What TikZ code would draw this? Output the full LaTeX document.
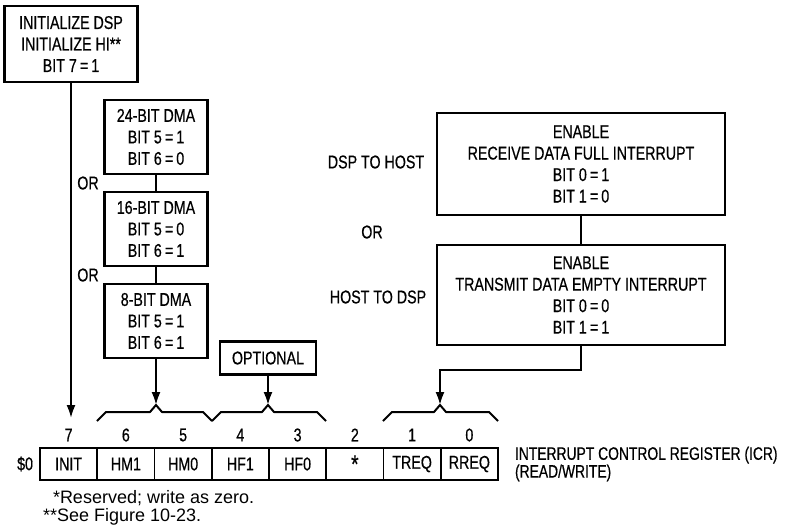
\documentclass[tikz,border=0pt]{standalone}
\usepackage{fontspec}
\setmainfont{Liberation Sans}
\newfontfamily\condfont[FakeStretch=0.77,FakeBold=0.5]{Liberation Sans}
\usetikzlibrary{positioning,calc,arrows.meta}

% brace over a group of register bits: left end, tip, right end, tip name
\newcommand\icrbrace[4]{%
  \draw[brc] (#1,421) -- (#1+9,412) -- (#2-6,412) -- (#2,405) -- (#2+6,412) -- (#3-9,412) -- (#3,421);
  \coordinate (#4) at (#2,405);}

\begin{document}
\begin{tikzpicture}[x=1pt,y=-1pt,
  every node/.style={inner sep=0pt,outer sep=0pt,font=\condfont\fontsize{18.5}{21.5}\selectfont},
  setbox/.style={draw,line width=2.8pt,align=center},
  regcell/.style={draw,line width=1.8pt,minimum width=57.25pt,minimum height=32pt},
  flow/.style={line width=2pt,-{Latex[length=13pt,width=9pt]}},
  link/.style={line width=2pt},
  brc/.style={line width=2pt,line join=round}]
\useasboundingbox (0,0) rectangle (785,528);
% INIT bit
\node[setbox,minimum width=133pt,minimum height=76pt] (init) at (71,44) {INITIALIZE DSP\\INITIALIZE HI**\\BIT 7\,=\,1};
% DMA modes (bits 6,5)
\node[setbox,minimum width=103pt,minimum height=74pt] (dma24) at (156,137) {24-BIT DMA\\BIT 5\,=\,1\\BIT 6\,=\,0};
\node[setbox,minimum width=103pt,minimum height=74pt,below=18pt of dma24] (dma16) {16-BIT DMA\\BIT 5\,=\,0\\BIT 6\,=\,1};
\node[setbox,minimum width=103pt,minimum height=74pt,below=18pt of dma16] (dma8) {8-BIT DMA\\BIT 5\,=\,1\\BIT 6\,=\,1};
\node (or1) at (88,183) {OR};
\node (or2) at (88,275) {OR};
% host flags (bits 4,3)
\node[setbox,minimum width=96pt,minimum height=33pt] (opt) at (268,358) {OPTIONAL};
% interrupt enables (bits 1,0)
\node[setbox,minimum width=288pt,minimum height=102pt] (rxbox) at (581,164) {ENABLE\\RECEIVE DATA FULL INTERRUPT\\BIT 0\,=\,1\\BIT 1\,=\,0};
\node[setbox,minimum width=288pt,minimum height=100pt,below=30pt of rxbox] (txbox) {ENABLE\\TRANSMIT DATA EMPTY INTERRUPT\\BIT 0\,=\,0\\BIT 1\,=\,1};
\node (dsp2host) at (376,162) {DSP TO HOST};
\node (orx) at (372,232) {OR};
\node (host2dsp) at (378,297) {HOST TO DSP};
% the register
\foreach \b/\t [count=\i from 0] in {7/INIT,6/HM1,5/HM0,4/HF1,3/HF0,2/{\fontsize{25}{25}\selectfont *},1/TREQ,0/RREQ}{
  \node[regcell] (c\b) at ({68.625+57.25*\i},464) {\t};
  \node (n\b) at ({68.625+57.25*\i},435) {\b};
}
\node[left=7pt of c7] (addr) {\$0};
\node[right=17pt of c0,align=left,font=\condfont\fontsize{18}{15}\selectfont] (icr) {INTERRUPT CONTROL REGISTER (ICR)\\(READ/WRITE)};
\node[anchor=west,font=\fontsize{18}{18}\selectfont] (note1) at (53,498) {*Reserved; write as zero.};
\node[anchor=west,font=\fontsize{18}{18}\selectfont] (note2) at (43,517) {**See Figure 10-23.};
% braces
\icrbrace{97}{156}{212}{b65}
\icrbrace{212}{268}{326}{b43}
\icrbrace{383}{440}{498}{b10}
\path (init.south) ++(0,336) coordinate (b7);
% connectors
\draw[flow] (init) -- (b7);
\draw[link] (dma24) -- (dma16);
\draw[link] (dma16) -- (dma8);
\draw[flow] (dma8) -- (b65);
\draw[flow] (opt) -- (b43);
\draw[link] (rxbox) -- (txbox);
\draw[flow] (txbox.south) -- ++(0,25) -| (b10);
\end{tikzpicture}
\end{document}
